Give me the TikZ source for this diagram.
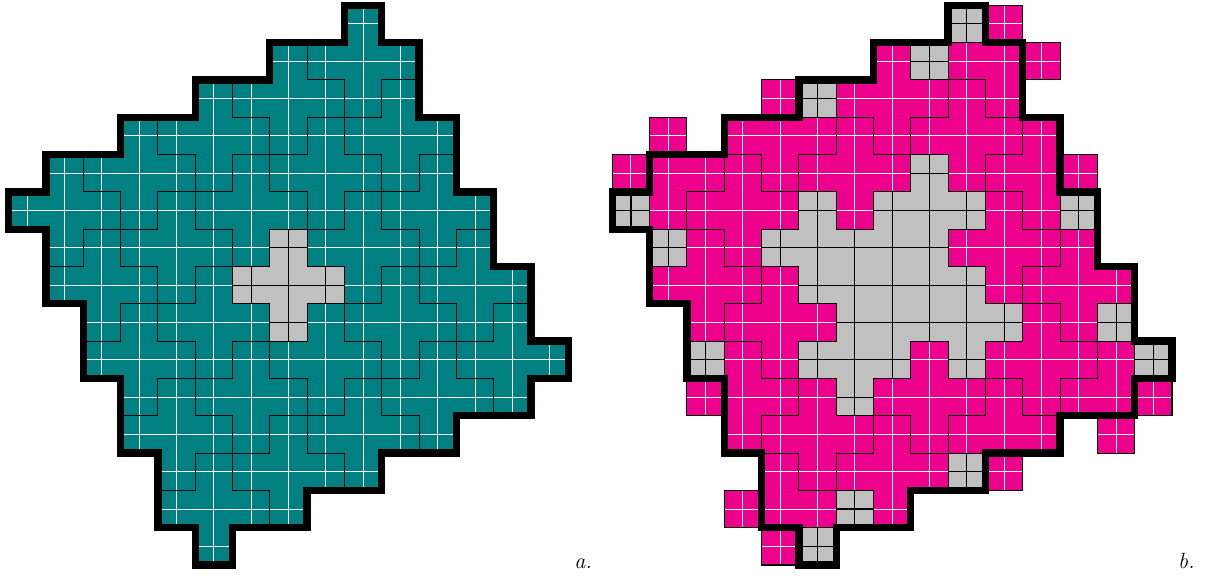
\documentclass[tikz,border=0pt]{standalone}
\definecolor{tealc}{RGB}{0,128,128}
\definecolor{pinkc}{RGB}{236,0,140}
\definecolor{grayc}{RGB}{192,192,192}
\tikzset{
  thinline/.style={black, line width=0.55pt},
  whiteline/.style={white, line width=0.5pt},
  bound/.style={black, line width=3.65pt, line join=miter},
  lbl/.style={anchor=base west, inner sep=0pt, font=\fontsize{11}{13}\selectfont\itshape},
}
\def\outline{(9,0) -- (10,0) -- (10,1) -- (11,1) -- (11,3) -- (12,3) -- (12,5) -- (13,5) -- (13,7) -- (14,7) -- (14,9) -- (15,9) -- (15,10) -- (14,10) -- (14,11) -- (12,11) -- (12,12) -- (10,12) -- (10,13) -- (8,13) -- (8,14) -- (6,14) -- (6,15) -- (5,15) -- (5,14) -- (4,14) -- (4,12) -- (3,12) -- (3,10) -- (2,10) -- (2,8) -- (1,8) -- (1,6) -- (0,6) -- (0,5) -- (1,5) -- (1,4) -- (3,4) -- (3,3) -- (5,3) -- (5,2) -- (7,2) -- (7,1) -- (9,1) -- cycle}
\newcommand\plustile[2]{(#1,#2-1) -- ++(1,0) -- ++(0,1) -- ++(1,0) -- ++(0,1) -- ++(-1,0) -- ++(0,1) -- ++(-1,0) -- ++(0,-1) -- ++(-1,0) -- ++(0,-1) -- ++(1,0) -- cycle}
\begin{document}
\begin{tikzpicture}[x=0.5pt,y=-0.5pt]
\useasboundingbox (0,0) rectangle (1205,576);
% ---------- left figure ----------
\begin{scope}[shift={(8.6,5.3)},x=18.657pt,y=-18.657pt]
  \begin{scope}
    \clip \outline;
    \fill[tealc] (-1,-1) rectangle (16,16);
    \foreach \i in {0,...,15} {
      \draw[whiteline] (\i+0.5,-1) -- (\i+0.5,16);
      \draw[whiteline] (-1,\i+0.5) -- (16,\i+0.5);
    }
    \foreach \m in {-6,...,6} {
      \foreach \n in {-6,...,6} {
        \pgfmathtruncatemacro\ca{7+\m+2*\n}
        \pgfmathtruncatemacro\cb{7+2*\m-\n}
        \draw[thinline] \plustile{\ca}{\cb};
      }
    }
  \end{scope}
  \begin{scope}
    \fill[grayc] \plustile{7}{7};
    \clip \plustile{7}{7};
    \foreach \i in {6.5,7.5,8.5} {
      \draw[thinline] (\i,5) -- (\i,10);
      \draw[thinline] (5,\i) -- (10,\i);
    }
  \end{scope}
  \draw[thinline] \plustile{7}{7};
  \draw[bound] \outline;
\end{scope}
% ---------- right figure ----------
\begin{scope}[shift={(612.3,5.3)},x=18.657pt,y=-18.657pt]
  \begin{scope}
    \clip \outline;
    \fill[grayc] (-1,-1) rectangle (16,16);
    \foreach \i in {0,...,15} {
      \draw[thinline] (\i+0.5,-1) -- (\i+0.5,16);
      \draw[thinline] (-1,\i+0.5) -- (16,\i+0.5);
    }
  \end{scope}
  \foreach \ca/\cb in {10/1,7/2,9/3,4/3,11/4,1/4,6/4,3/5,10/6,2/7,12/7,4/8,11/9,8/10,3/10,13/10,5/11,10/11,7/12,4/13} {
    \fill[pinkc] \plustile{\ca}{\cb};
    \begin{scope}
      \clip \plustile{\ca}{\cb};
      \foreach \d in {-0.5,0.5,1.5} {
        \draw[whiteline] (\ca+\d,\cb-1) -- (\ca+\d,\cb+2);
        \draw[whiteline] (\ca-1,\cb+\d) -- (\ca+2,\cb+\d);
      }
    \end{scope}
    \draw[thinline] \plustile{\ca}{\cb};
  }
  \draw[bound] \outline;
\end{scope}
% ---------- labels ----------
\node[lbl] (la) at (574,568.3) {a.};
\node[lbl] (lb) at (1177.7,568.3) {b.};
\end{tikzpicture}
\end{document}
